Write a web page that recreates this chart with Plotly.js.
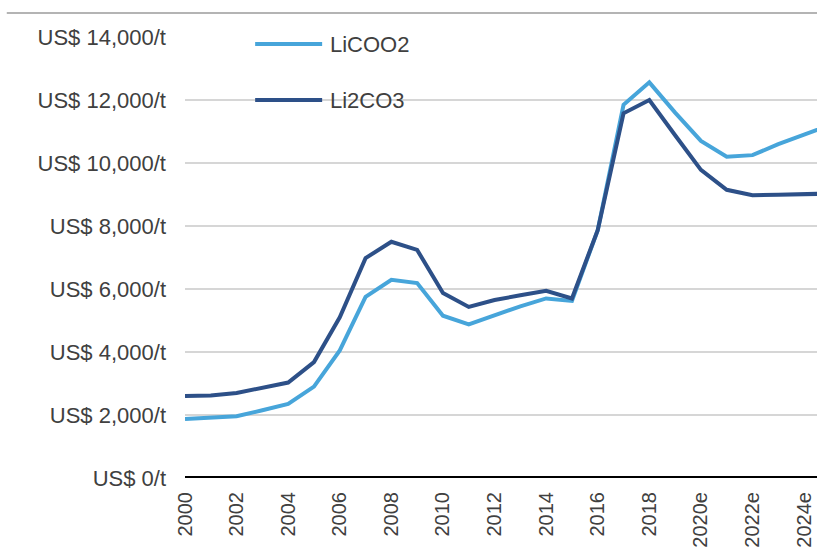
<!DOCTYPE html>
<html>
<head>
<meta charset="utf-8">
<script src="https://cdn.plot.ly/plotly-3.0.1.min.js"></script>
<style>
  html, body { margin: 0; padding: 0; background: #ffffff; overflow: hidden; }
  #chart { width: 817px; height: 549px; }
</style>
</head>
<body>
<div id="chart"></div>
<script>
// Lithium price history and forecast, US$ per tonne
const years = [2000, 2001, 2002, 2003, 2004, 2005, 2006, 2007, 2008, 2009,
               2010, 2011, 2012, 2013, 2014, 2015, 2016, 2017, 2018, 2019,
               2020, 2021, 2022, 2023, 2024, 2025];

const licoo2 = [1870, 1900, 1960, 2150, 2350, 2900, 4050, 5750, 6290, 6190,
                5150, 4880, 5180, 5450, 5700, 5620, 7870, 11850, 12560, 11600,
                10700, 10200, 10250, 10600, 10900, 11200];

const li2co3 = [2600, 2620, 2700, 2880, 3030, 3680, 5100, 6980, 7500, 7240,
                5870, 5430, 5650, 5800, 5940, 5700, 7870, 11580, 12000, 10880,
                9780, 9150, 8980, 8990, 9010, 9030];

const xTickVals = [2000, 2002, 2004, 2006, 2008, 2010, 2012, 2014, 2016, 2018, 2020, 2022, 2024];
const xTickText = ['2000', '2002', '2004', '2006', '2008', '2010', '2012', '2014', '2016', '2018', '2020e', '2022e', '2024e'];

const yTickVals = [0, 2000, 4000, 6000, 8000, 10000, 12000, 14000];
const yTickText = ['US$ 0/t', 'US$ 2,000/t', 'US$ 4,000/t', 'US$ 6,000/t', 'US$ 8,000/t',
                   'US$ 10,000/t', 'US$ 12,000/t', 'US$ 14,000/t'];

const seriesNames = ['LiCOO2', 'Li2CO3'];
const seriesColors = ['#47a5da', '#2d5088'];

const FONT = 'Liberation Sans, Arial, sans-serif';
const TEXT_COLOR = '#404040';

const traces = [
  { x: years, y: licoo2, name: seriesNames[0], type: 'scatter', mode: 'lines',
    line: { color: seriesColors[0], width: 4, shape: 'linear' }, hoverinfo: 'x+y' },
  { x: years, y: li2co3, name: seriesNames[1], type: 'scatter', mode: 'lines',
    line: { color: seriesColors[1], width: 4, shape: 'linear' }, hoverinfo: 'x+y' }
];

// Hand-placed legend: short line samples with labels to their right
const legendX0 = 0.111, legendX1 = 0.217, legendTextX = 0.226;
const legendY = [0.984, 0.857];

const shapes = [
  // white panel behind the legend, hiding the upper gridlines
  { type: 'rect', xref: 'paper', yref: 'paper', x0: 0, x1: 0.604, y0: 0.823, y1: 1.034,
    fillcolor: '#ffffff', line: { width: 0 }, layer: 'between' },
  // thin rule across the top of the figure
  { type: 'line', xref: 'paper', yref: 'paper', x0: -0.282, x1: 1, y0: 1.0545, y1: 1.0545,
    line: { color: '#b4b4b4', width: 2 } },
  // heavy baseline at zero
  { type: 'line', xref: 'paper', yref: 'y', x0: 0, x1: 1, y0: 0, y1: 0,
    line: { color: '#000000', width: 4 }, layer: 'above' }
];
const annotations = [];
seriesNames.forEach((name, i) => {
  shapes.push({ type: 'line', xref: 'paper', yref: 'paper',
    x0: legendX0, x1: legendX1, y0: legendY[i], y1: legendY[i],
    line: { color: seriesColors[i], width: 4 }, layer: 'above' });
  annotations.push({ xref: 'paper', yref: 'paper', x: legendTextX, y: legendY[i],
    xanchor: 'left', yanchor: 'middle', text: name, showarrow: false,
    font: { family: FONT, size: 22, color: TEXT_COLOR } });
});

const layout = {
  width: 817, height: 549,
  margin: { l: 185, r: 0, t: 37, b: 71, pad: 0 },
  paper_bgcolor: '#ffffff', plot_bgcolor: '#ffffff',
  showlegend: false,
  font: { family: FONT, size: 20, color: TEXT_COLOR },
  xaxis: {
    type: 'linear', range: [2000, 2024.5], fixedrange: true,
    tickmode: 'array', tickvals: xTickVals, ticktext: xTickText,
    tickangle: -90, ticks: '', showgrid: false, zeroline: false, showline: false,
    ticklabelstandoff: 9,
    tickfont: { family: FONT, size: 20, color: TEXT_COLOR }
  },
  yaxis: {
    range: [0, 14000], fixedrange: true,
    tickmode: 'array', tickvals: yTickVals, ticktext: yTickText,
    ticks: '', showgrid: true, gridcolor: '#d6d6d6', gridwidth: 2,
    zeroline: false, showline: false,
    ticklabelstandoff: 18,
    tickfont: { family: FONT, size: 22, color: TEXT_COLOR }
  },
  shapes: shapes,
  annotations: annotations
};

Plotly.newPlot('chart', traces, layout, { displayModeBar: false, staticPlot: true });
</script>
</body>
</html>
